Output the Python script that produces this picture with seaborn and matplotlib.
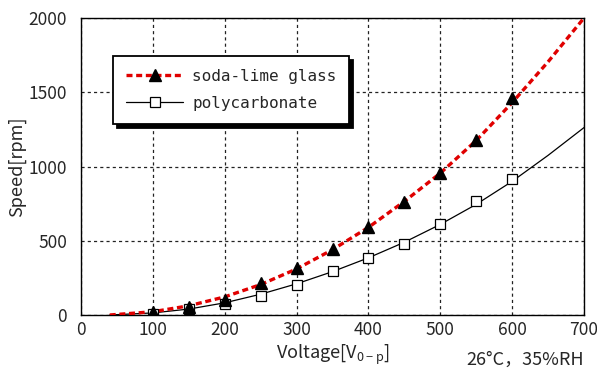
import numpy as np
import pandas as pd
import matplotlib
matplotlib.use("Agg")
import matplotlib.pyplot as plt
import seaborn as sns
from matplotlib.lines import Line2D

# ---- data ----
volt_pts = [100, 150, 200, 250, 300, 350, 400, 450, 500, 550, 600]
glass_pts = [18, 55, 100, 215, 318, 445, 590, 758, 958, 1180, 1462]
pc_pts = [10, 42, 76, 130, 205, 293, 381, 475, 610, 767, 918]

curve_volt = [40, 100, 150, 200, 250, 300, 350, 400, 450, 500, 550, 600, 650, 700]
glass_curve = [0, 22, 62, 122, 205, 310, 440, 590, 765, 955, 1175, 1430, 1705, 2000]
pc_curve = [0, 14, 40, 82, 140, 210, 292, 385, 490, 610, 745, 900, 1075, 1262]

x_ticks = [0, 100, 200, 300, 400, 500, 600, 700]
y_ticks = [0, 500, 1000, 1500, 2000]

label_glass = "soda-lime glass"
label_pc = "polycarbonate"

sns.set_style("white")
plt.rcParams['font.family'] = ['Noto Sans CJK JP', 'DejaVu Sans']
plt.rcParams['mathtext.default'] = 'regular'

fig = plt.figure(figsize=(5.97, 3.71), dpi=100)
ax = fig.add_axes([81/597, 1-315/371, (584-81)/597, (315-18)/371])

df_gc = pd.DataFrame({"V": curve_volt, "S": glass_curve})
df_pc = pd.DataFrame({"V": curve_volt, "S": pc_curve})
df_gp = pd.DataFrame({"V": volt_pts, "S": glass_pts})
df_pp = pd.DataFrame({"V": volt_pts, "S": pc_pts})

sns.lineplot(data=df_pc, x="V", y="S", ax=ax, color="black", lw=0.9, zorder=3)
sns.lineplot(data=df_gc, x="V", y="S", ax=ax, color="#e00000", lw=2.4,
             dashes=False, zorder=4).lines[-1].set_dashes((1.8, 1.1))
ax.plot(df_pp["V"], df_pp["S"], ls="none", marker="s", ms=7.5, mfc="white",
        mec="black", mew=0.9, zorder=5)
ax.plot(df_gp["V"], df_gp["S"], ls="none", marker="^", ms=8.5, mfc="black",
        mec="black", zorder=6)

ax.set_xlim(0, 700)
ax.set_ylim(0, 2000)
ax.set_xticks(x_ticks)
ax.set_yticks(y_ticks)
ax.set_xticks(np.arange(0, 701, 20), minor=True)
ax.set_yticks(np.arange(0, 2001, 100), minor=True)
ax.tick_params(which="both", direction="in", color="#333333", labelsize=12.5)
ax.tick_params(axis="y", which="major", length=5, pad=10)
ax.tick_params(axis="x", which="major", length=5, pad=4)
ax.tick_params(which="minor", length=3)
ax.grid(True, which="major", color="#222222", lw=0.9, ls=(0, (2.5, 2.5)))

for s in ax.spines.values():
    s.set_color("black")
    s.set_linewidth(1.0)

ax.set_xlabel("Voltage[V$_{0-p}$]", fontsize=13)
ax.set_ylabel("Speed[rpm]", fontsize=13)
ax.xaxis.set_label_coords((333-81)/503, -0.095)
ax.yaxis.set_label_coords(-(81-26)/503, 0.5)

h1 = Line2D([], [], color="#e00000", lw=2.4, dashes=(1.8, 1.1), marker="^",
            ms=8.5, mfc="black", mec="black")
h2 = Line2D([], [], color="black", lw=0.9, marker="s", ms=7.5, mfc="white",
            mec="black", mew=0.9)
leg = ax.legend([h1, h2], [label_glass, label_pc], loc="upper left",
                bbox_to_anchor=((113-81)/503, (315-56)/297), borderaxespad=0,
                fancybox=False,
                shadow={'color': 'black', 'alpha': 1, 'ox': 3, 'oy': -3},
                frameon=True, framealpha=1, edgecolor="black",
                prop={'family': 'DejaVu Sans Mono', 'size': 11.5},
                handlelength=3.6, borderpad=0.8, labelspacing=0.75,
                handletextpad=0.55)
leg.get_frame().set_linewidth(1.3)

fig.text(584/597, 1-360/371, "26°C，35%RH", ha="right", va="center",
         fontsize=13)

fig.savefig("out.png", dpi=100)
